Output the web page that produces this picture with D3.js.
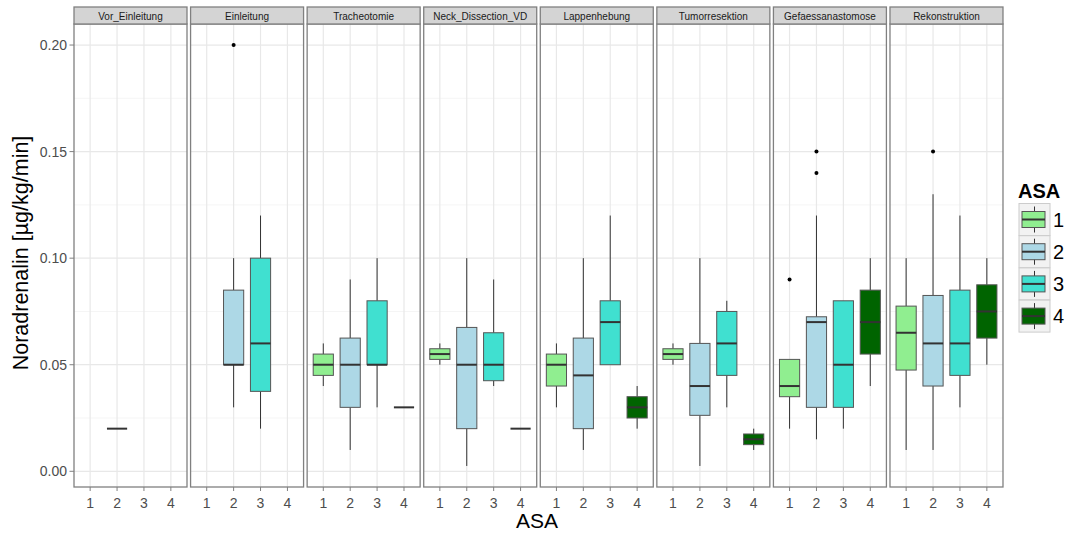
<!DOCTYPE html>
<html><head><meta charset="utf-8">
<script src="https://cdn.jsdelivr.net/npm/d3@7"></script>
<style>body{margin:0;background:#fff;}svg{display:block;font-family:"Liberation Sans",Arial,sans-serif;}</style>
</head><body><svg id="c" width="1067" height="533"></svg>
<script>
const phases = ["Vor_Einleitung","Einleitung","Tracheotomie","Neck_Dissection_VD","Lappenhebung","Tumorresektion","Gefaessanastomose","Rekonstruktion"];
const asaLevels = ["1","2","3","4"];
const asaColors = ["#90EE90","#ADD8E6","#40E0D0","#006400"];
const yTicks = [0, 0.05, 0.10, 0.15, 0.20];
const yTickLabels = ["0.00","0.05","0.10","0.15","0.20"];
// per phase, per ASA level [1,2,3,4]; null = no data
const whiskerLow = [
  [null,0.02,null,null],[null,0.03,0.02,null],[0.04,0.01,0.03,0.03],[0.05,0.0025,0.04,0.02],
  [0.03,0.01,0.05,0.02],[0.05,0.0025,0.03,0.01],[0.02,0.015,0.02,0.04],[0.01,0.01,0.03,0.05]];
const q1 = [
  [null,0.02,null,null],[null,0.05,0.0375,null],[0.045,0.03,0.05,0.03],[0.0525,0.02,0.0425,0.02],
  [0.04,0.02,0.05,0.025],[0.0525,0.02625,0.045,0.0125],[0.035,0.03,0.03,0.055],[0.0475,0.04,0.045,0.0625]];
const median = [
  [null,0.02,null,null],[null,0.05,0.06,null],[0.05,0.05,0.05,0.03],[0.055,0.05,0.05,0.02],
  [0.05,0.045,0.07,0.03],[0.055,0.04,0.06,0.015],[0.04,0.07,0.05,0.07],[0.065,0.06,0.06,0.075]];
const q3 = [
  [null,0.02,null,null],[null,0.085,0.10,null],[0.055,0.0625,0.08,0.03],[0.0575,0.0675,0.065,0.02],
  [0.055,0.0625,0.08,0.035],[0.0575,0.06,0.075,0.0175],[0.0525,0.0725,0.08,0.085],[0.0775,0.0825,0.085,0.0875]];
const whiskerHigh = [
  [null,0.02,null,null],[null,0.10,0.12,null],[0.06,0.09,0.10,0.03],[0.06,0.10,0.09,0.02],
  [0.06,0.10,0.12,0.04],[0.06,0.10,0.08,0.02],[0.0525,0.12,0.08,0.10],[0.10,0.13,0.12,0.10]];
const outliers = [
  [[],[],[],[]],[[],[0.20],[],[]],[[],[],[],[]],[[],[],[],[]],
  [[],[],[],[]],[[],[],[],[]],[[0.09],[0.15,0.14],[],[]],[[],[0.15],[],[]]];

const svg = d3.select("#c");
const panelW = 113, panelStep = 116.57, panelX0 = 74, pTop = 24, pBottom = 487, stripTop = 7;
const y = d3.scaleLinear().domain([0.0025-0.009875, 0.2+0.009875]).range([pBottom, pTop]);
const minor = [0.025,0.075,0.125,0.175];

phases.forEach((ph, i) => {
  const px = panelX0 + i*panelStep;
  const x = d3.scalePoint().domain(asaLevels).range([px, px+panelW]).padding(0.6);
  const unit = x.step();
  const g = svg.append("g");
  g.append("rect").attr("x",px).attr("y",pTop).attr("width",panelW).attr("height",pBottom-pTop).attr("fill","#fff");
  minor.forEach(v => g.append("line").attr("x1",px).attr("x2",px+panelW).attr("y1",y(v)).attr("y2",y(v)).attr("stroke","#f5f5f5").attr("stroke-width",1));
  yTicks.forEach(v => g.append("line").attr("x1",px).attr("x2",px+panelW).attr("y1",y(v)).attr("y2",y(v)).attr("stroke","#e8e8e8").attr("stroke-width",1.2));
  asaLevels.forEach(a => g.append("line").attr("x1",x(a)).attr("x2",x(a)).attr("y1",pTop).attr("y2",pBottom).attr("stroke","#e8e8e8").attr("stroke-width",1.2));
  const bw = 0.75*unit;
  asaLevels.forEach((a,k) => {
    if (median[i][k] === null) return;
    const c = x(a);
    g.append("line").attr("x1",c).attr("x2",c).attr("y1",y(q3[i][k])).attr("y2",y(whiskerHigh[i][k])).attr("stroke","#333").attr("stroke-width",1);
    g.append("line").attr("x1",c).attr("x2",c).attr("y1",y(q1[i][k])).attr("y2",y(whiskerLow[i][k])).attr("stroke","#333").attr("stroke-width",1);
    g.append("rect").attr("x",c-bw/2).attr("width",bw).attr("y",y(q3[i][k])).attr("height",Math.max(0,y(q1[i][k])-y(q3[i][k])))
      .attr("fill",asaColors[k]).attr("stroke","#555").attr("stroke-width",1);
    g.append("line").attr("x1",c-bw/2).attr("x2",c+bw/2).attr("y1",y(median[i][k])).attr("y2",y(median[i][k])).attr("stroke","#333").attr("stroke-width",2);
    outliers[i][k].forEach(v => g.append("circle").attr("cx",c).attr("cy",y(v)).attr("r",2).attr("fill","#000"));
  });
  g.append("rect").attr("x",px).attr("y",pTop).attr("width",panelW).attr("height",pBottom-pTop).attr("fill","none").attr("stroke","#808080").attr("stroke-width",1.3);
  g.append("rect").attr("x",px).attr("y",stripTop).attr("width",panelW).attr("height",pTop-stripTop).attr("fill","#d4d4d4").attr("stroke","#808080").attr("stroke-width",1.3);
  g.append("text").attr("x",px+panelW/2).attr("y",19.5).attr("text-anchor","middle").attr("font-size",10).attr("fill","#1a1a1a").text(ph);
  asaLevels.forEach(a => {
    g.append("line").attr("x1",x(a)).attr("x2",x(a)).attr("y1",pBottom).attr("y2",pBottom+4).attr("stroke","#808080");
    g.append("text").attr("x",x(a)).attr("y",508).attr("text-anchor","middle").attr("font-size",14).attr("fill","#4d4d4d").text(a);
  });
});
yTicks.forEach((v,j) => {
  svg.append("line").attr("x1",panelX0-4.5).attr("x2",panelX0).attr("y1",y(v)).attr("y2",y(v)).attr("stroke","#808080");
  svg.append("text").attr("x",67).attr("y",y(v)+5).attr("text-anchor","end").attr("font-size",14).attr("fill","#4d4d4d").text(yTickLabels[j]);
});
svg.append("text").attr("transform","translate(28,253) rotate(-90)").attr("text-anchor","middle").attr("font-size",21.5).attr("fill","#000").text("Noradrenalin [µg/kg/min]");
svg.append("text").attr("x",537).attr("y",528).attr("text-anchor","middle").attr("font-size",21).attr("fill","#000").text("ASA");
svg.append("text").attr("x",1018).attr("y",198).attr("font-size",20).attr("font-weight","bold").text("ASA");
asaLevels.forEach((a,k) => {
  const ly = 203.5 + k*32.2;
  const lg = svg.append("g");
  lg.append("rect").attr("x",1019).attr("y",ly).attr("width",31).attr("height",32).attr("fill","#f2f2f2").attr("stroke","#cccccc").attr("stroke-width",1);
  lg.append("line").attr("x1",1034.5).attr("x2",1034.5).attr("y1",ly+3).attr("y2",ly+29).attr("stroke","#333");
  lg.append("rect").attr("x",1022).attr("y",ly+8).attr("width",23).attr("height",16).attr("fill",asaColors[k]).attr("stroke","#555");
  lg.append("line").attr("x1",1022).attr("x2",1045).attr("y1",ly+16).attr("y2",ly+16).attr("stroke","#333").attr("stroke-width",2);
  lg.append("text").attr("x",1053).attr("y",ly+23).attr("font-size",20).text(a);
});
</script></body></html>
